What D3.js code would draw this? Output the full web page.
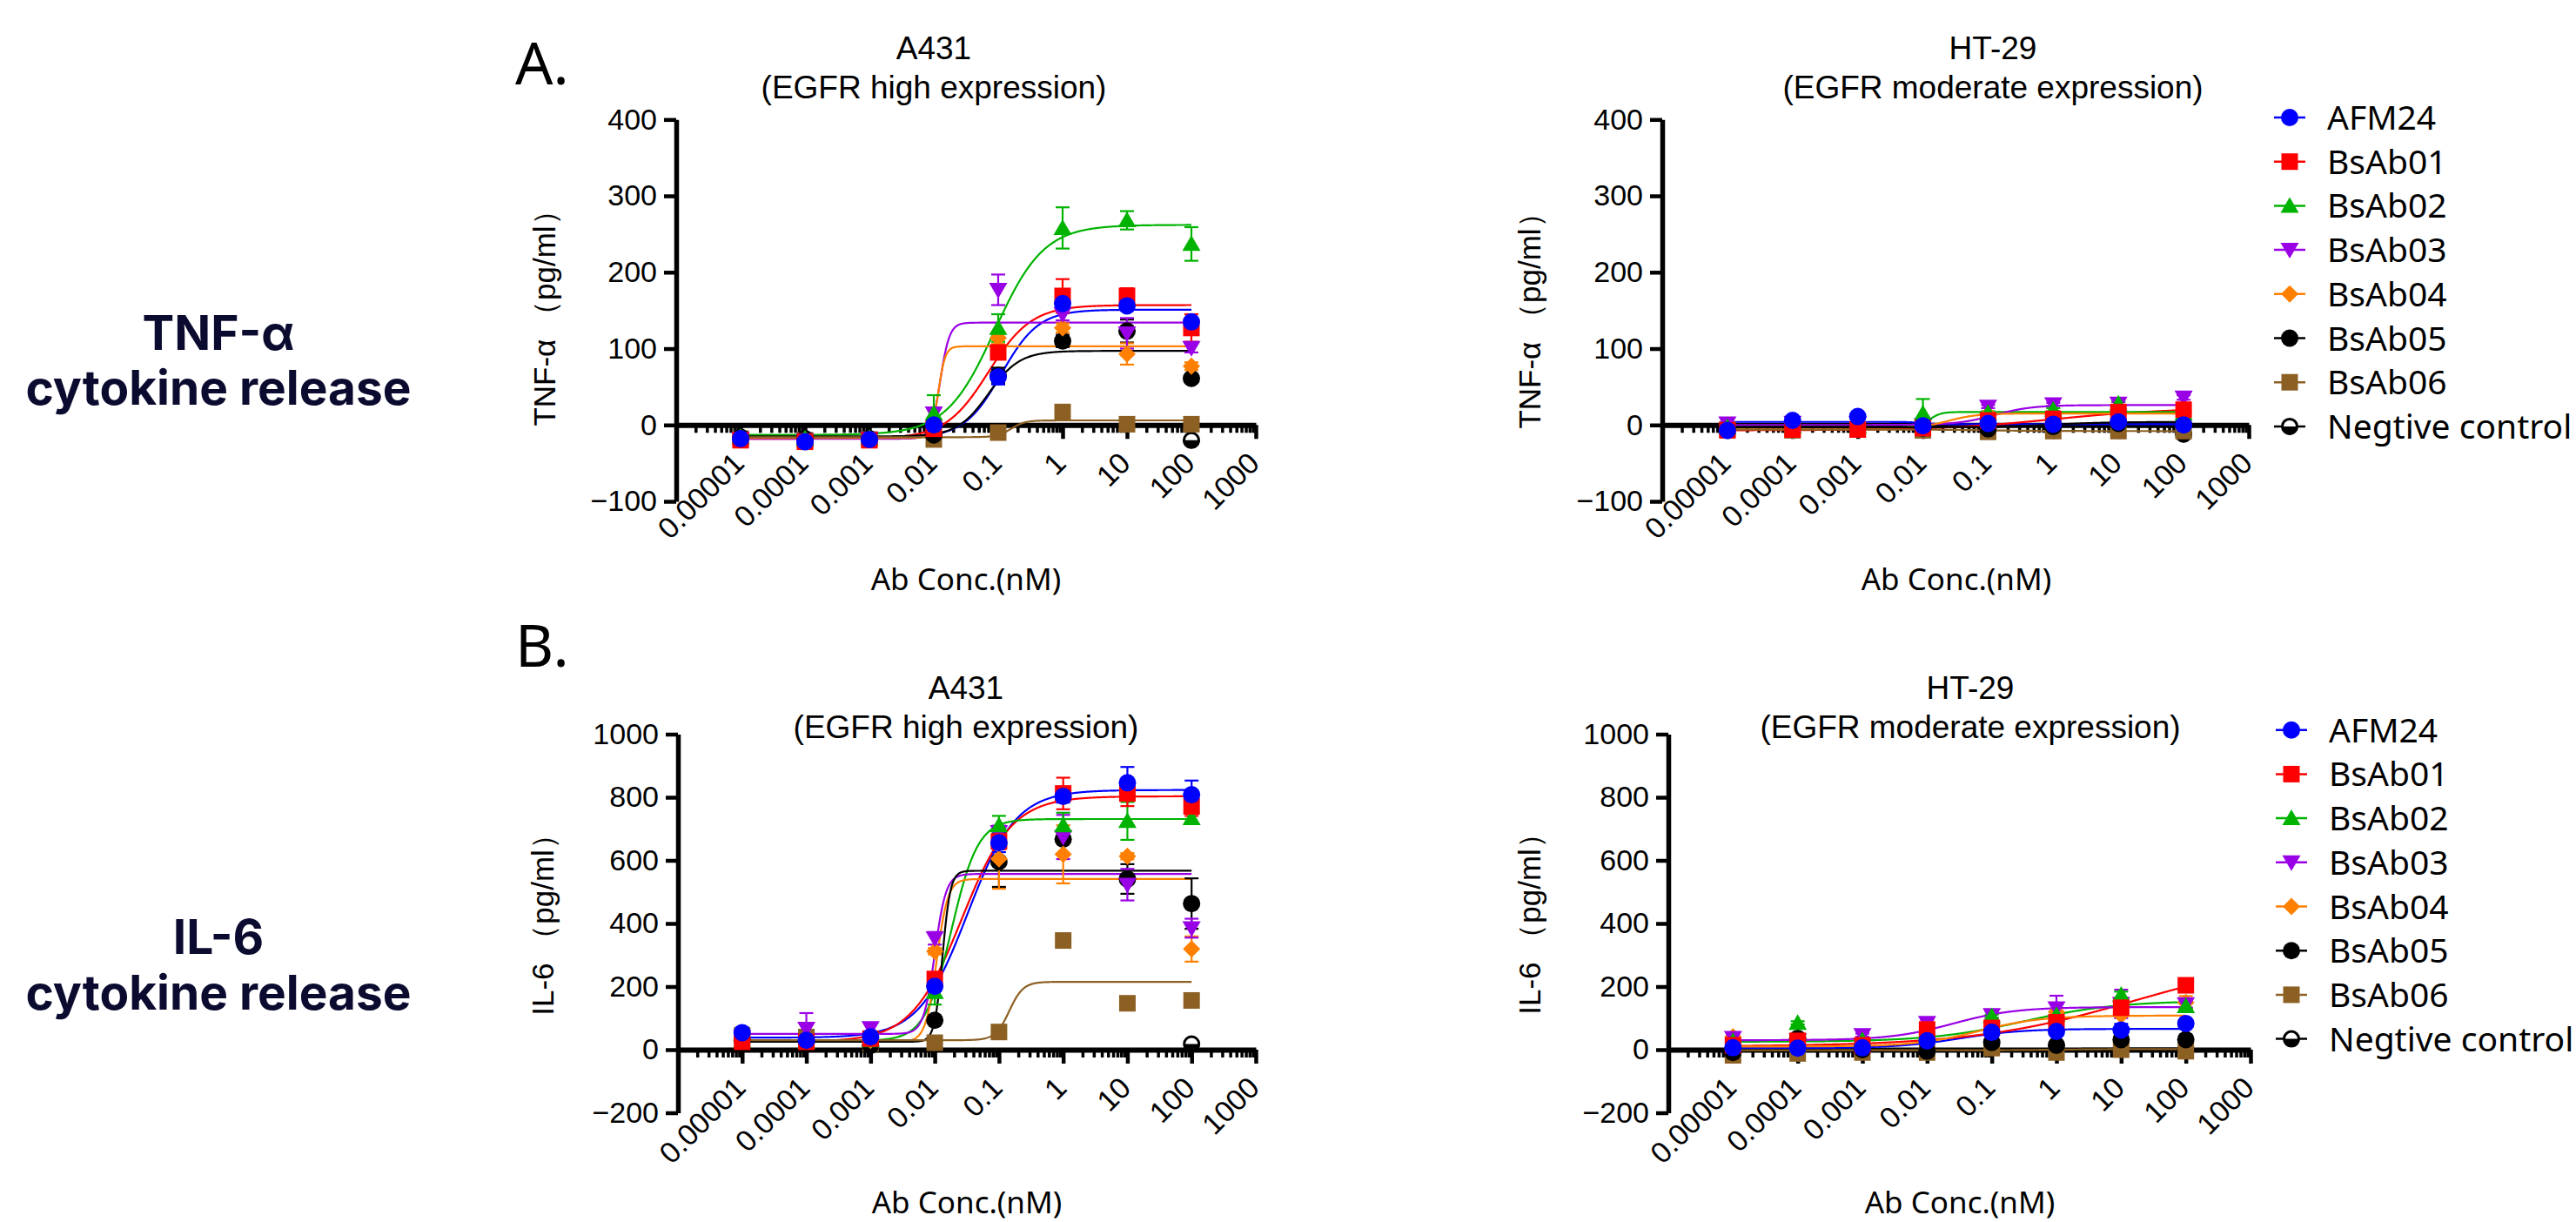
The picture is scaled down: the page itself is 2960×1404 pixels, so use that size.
<!DOCTYPE html>
<html>
<head>
<meta charset="utf-8">
<script src="https://cdn.jsdelivr.net/npm/d3@7"></script>
<style>
  body { margin: 0; background: #fff; }
  svg text { font-family: "Liberation Sans", Arial, sans-serif; fill: #000; }
</style>
</head>
<body>
<div id="chart"></div>
<script>
// Canvas
const width = 2960;
const height = 1404;

// Concentrations (nM) and labels
const conc = [1e-5, 1e-4, 1e-3, 0.01, 0.1, 1, 10, 100];
const seriesNames = ["AFM24", "BsAb01", "BsAb02", "BsAb03", "BsAb04", "BsAb05", "BsAb06", "Negtive control"];
const xTickValues = [1e-5, 1e-4, 1e-3, 0.01, 0.1, 1, 10, 100, 1000];
const xTickLabels = ["0.00001", "0.0001", "0.001", "0.01", "0.1", "1", "10", "100", "1000"];
const yTicksTNF = [-100, 0, 100, 200, 300, 400];
const yTicksIL6 = [-200, 0, 200, 400, 600, 800, 1000];

// TNF-a, A431 (rows follow seriesNames)
const tnfA431Values = [
  [-18, -22, -19, 0, 63, 159, 156, 135],
  [-20, -22, -20, -5, 95, 169, 169, 127],
  [-16, -18, -17, 15, 127, 258, 268, 237],
  [-18, -20, -18, 15, 177, 145, 120, 101],
  [-17, -19, -18, 5, 114, 127, 93, 77],
  [-16, -18, -18, -13, 65, 110, 123, 61],
  [-18, -20, -19, -19, -10, 17, 1, 1],
  [null, null, null, null, null, null, null, -20]
];
const tnfA431Errors = [
  [3, 3, 3, 5, 10, 8, 6, 5],
  [4, 4, 4, 6, 8, 22, 10, 18],
  [3, 3, 3, 24, 18, 27, 12, 22],
  [3, 3, 3, 8, 20, 8, 20, 6],
  [3, 3, 3, 5, 8, 6, 14, 5],
  [3, 3, 3, 5, 10, 8, 15, 5],
  [0, 0, 0, 0, 0, 0, 0, 0],
  [0, 0, 0, 0, 0, 0, 0, 0]
];
// fit: bottom, top, logEC50, hill
const tnfA431Fit = [
  [-17, 151, -0.95, 1.5],
  [-18, 157, -1.15, 1.3],
  [-13, 262, -1.05, 1.15],
  [-18, 134, -1.9, 6],
  [-17, 103, -1.93, 8],
  [-15, 97, -1.15, 1.8],
  [-16, 6, -0.8, 4]
];

// TNF-a, HT-29
const tnfHT29Values = [
  [-7, 6, 11, -1, 2, 1, 4, 0],
  [-7, -6, -6, -4, 6, 8, 17, 20],
  [-3, -2, -2, 15, 16, 20, 28, 15],
  [2, 3, 2, 0, 24, 27, 28, 36],
  [-5, -5, -4, 0, 14, 15, 15, 16],
  [-4, -3, -3, -4, -5, -2, 2, 1],
  [-6, -7, -6, -7, -9, -8, -8, -8],
  [null, null, null, null, null, null, null, -12]
];
const tnfHT29Errors = [
  [2, 2, 2, 2, 2, 2, 2, 2],
  [2, 2, 2, 2, 2, 2, 3, 3],
  [2, 2, 2, 19, 2, 2, 3, 2],
  [2, 2, 2, 2, 2, 2, 2, 3],
  [2, 2, 2, 2, 2, 2, 2, 2],
  [0, 0, 0, 0, 0, 0, 0, 0],
  [0, 0, 0, 0, 0, 0, 0, 0],
  [0, 0, 0, 0, 0, 0, 0, 0]
];
const tnfHT29Fit = [
  [4, 1, -2, 4],
  [-7, 22, 0, 0.5],
  [-3, 17, -1.9, 5],
  [0, 26, -0.9, 1.5],
  [-4, 15, -1.6, 2],
  [-3, 4, 0, 1],
  [-6, -8, -1, 1]
];

// IL-6, A431
const il6A431Values = [
  [54, 30, 41, 201, 656, 803, 846, 808],
  [25, 25, 35, 224, 660, 812, 812, 771],
  [28, 25, 30, 183, 711, 711, 725, 734],
  [40, 66, 68, 353, 690, 674, 523, 385],
  [30, 28, 30, 312, 605, 619, 613, 319],
  [30, 25, 13, 93, 596, 667, 541, 463],
  [45, 40, 20, 22, 56, 346, 147, 156],
  [null, null, null, null, null, null, null, 18]
];
const il6A431Errors = [
  [8, 8, 8, 15, 30, 20, 50, 45],
  [8, 8, 8, 15, 25, 50, 40, 30],
  [5, 5, 5, 40, 30, 40, 60, 15],
  [10, 50, 15, 20, 20, 70, 50, 30],
  [5, 5, 5, 10, 95, 92, 10, 40],
  [5, 5, 5, 10, 80, 10, 47, 80],
  [0, 0, 0, 0, 0, 0, 0, 0],
  [0, 0, 0, 0, 0, 0, 0, 0]
];
const il6A431Fit = [
  [38, 823, -1.49, 1.15],
  [25, 803, -1.58, 1.11],
  [28, 731, -1.74, 2.1],
  [50, 557, -2.0, 5],
  [25, 541, -1.97, 5],
  [25, 567, -1.88, 7],
  [30, 215, -0.84, 4]
];

// IL-6, HT-29
const il6HT29Values = [
  [6, 5, 6, 28, 55, 58, 62, 83],
  [14, 28, 14, 64, 69, 87, 133, 204],
  [27, 85, 30, 50, 106, 110, 174, 138],
  [37, 30, 46, 85, 110, 131, 145, 144],
  [41, 25, 20, 50, 90, 119, 110, 150],
  [-9, 36, 0, -5, 23, 14, 32, 32],
  [-18, -12, -9, -9, 5, -9, 0, -5],
  [null, null, null, null, null, null, null, 0]
];
const il6HT29Errors = [
  [5, 5, 5, 5, 5, 5, 20, 8],
  [5, 5, 5, 5, 5, 5, 10, 20],
  [5, 5, 5, 5, 5, 5, 10, 8],
  [5, 5, 5, 10, 10, 40, 45, 10],
  [5, 5, 5, 5, 5, 5, 5, 20],
  [0, 0, 0, 0, 0, 0, 0, 0],
  [0, 0, 0, 0, 0, 0, 0, 0],
  [0, 0, 0, 0, 0, 0, 0, 0]
];
const il6HT29Fit = [
  [5, 66, -1.5, 0.9],
  [10, 300, 1.2, 0.35],
  [25, 155, -0.5, 0.6],
  [30, 135, -1.6, 0.9],
  [10, 108, -1.2, 0.9],
  [0, 4, 0, 1],
  [-2, 2, 0, 1]
];

// Styles
const colors = ["#0000ff", "#ff0000", "#00b300", "#9900e6", "#ff8000", "#000000", "#8c6023", "#000000"];
const shapes = ["circle", "square", "triUp", "triDown", "diamond", "circle", "square", "half"];

const svg = d3.select("#chart")
  .append("svg")
  .attr("width", width)
  .attr("height", height)
  .attr("viewBox", `0 0 ${width} ${height}`);

function markerPath(shape) {
  if (shape === "circle") return d3.symbol(d3.symbolCircle, Math.PI * 10 * 10)();
  if (shape === "square") return "M-9.5,-9.5H9.5V9.5H-9.5Z";
  if (shape === "triUp") return "M0,-10L10.5,8L-10.5,8Z";
  if (shape === "triDown") return "M0,10L10.5,-8L-10.5,-8Z";
  if (shape === "diamond") return "M0,-10L10,0L0,10L-10,0Z";
  return "";
}

function drawMarker(g, i, cx, cy) {
  const m = g.append("g").attr("transform", `translate(${cx},${cy})`);
  if (shapes[i] === "half") {
    m.append("circle").attr("r", 8.5).attr("fill", "#fff")
      .attr("stroke", "#000").attr("stroke-width", 3);
    m.append("path").attr("d", "M-9.5,0A9.5,9.5 0 0 0 9.5,0Z").attr("fill", "#000");
  } else {
    m.append("path").attr("d", markerPath(shapes[i])).attr("fill", colors[i]);
  }
}

function logistic(p, lx) {
  return p[0] + (p[1] - p[0]) / (1 + Math.pow(10, (p[2] - lx) * p[3]));
}

// Panel layouts
const panels = [
  { x0: 777, x1: 1443, yTop: 137.3, yBot: 576, dom: [-100, 400], ticks: yTicksTNF,
    vals: tnfA431Values, errs: tnfA431Errors, fits: tnfA431Fit,
    title: ["A431", "(EGFR high expression)"], tx: 1073, ty: 68,
    ylab: "TNF-α （pg/ml）", ylx: 626, yly: 357, xlx: 1110, xly: 678, legend: null },
  { x0: 1910, x1: 2584, yTop: 137.3, yBot: 576, dom: [-100, 400], ticks: yTicksTNF,
    vals: tnfHT29Values, errs: tnfHT29Errors, fits: tnfHT29Fit,
    title: ["HT-29", "(EGFR moderate expression)"], tx: 2290, ty: 68,
    ylab: "TNF-α （pg/ml）", ylx: 1758, yly: 360, xlx: 2248, xly: 678,
    legend: { mx: 2631, y0: 135 } },
  { x0: 779, x1: 1443, yTop: 843.5, yBot: 1278.5, dom: [-200, 1000], ticks: yTicksIL6,
    vals: il6A431Values, errs: il6A431Errors, fits: il6A431Fit,
    title: ["A431", "(EGFR high expression)"], tx: 1110, ty: 803,
    ylab: "IL-6 （pg/ml）", ylx: 624, yly: 1054, xlx: 1111, xly: 1394, legend: null },
  { x0: 1917, x1: 2586, yTop: 843.5, yBot: 1278.5, dom: [-200, 1000], ticks: yTicksIL6,
    vals: il6HT29Values, errs: il6HT29Errors, fits: il6HT29Fit,
    title: ["HT-29", "(EGFR moderate expression)"], tx: 2264, ty: 803,
    ylab: "IL-6 （pg/ml）", ylx: 1758, yly: 1053, xlx: 2252, xly: 1394,
    legend: { mx: 2633, y0: 838.7 } }
];

// minor log ticks
const minorTicks = [];
for (let d = -6; d <= 2; d++) {
  for (let k = 2; k <= 9; k++) minorTicks.push(k * Math.pow(10, d));
}

function drawPanel(p) {
  const x = d3.scaleLog().domain([1e-6, 1000]).range([p.x0, p.x1]);
  const y = d3.scaleLinear().domain(p.dom).range([p.yBot, p.yTop]);
  const g = svg.append("g");
  const y0 = y(0);

  // titles
  p.title.forEach((t, k) => {
    g.append("text").attr("x", p.tx).attr("y", p.ty + k * 45)
      .attr("text-anchor", "middle")
      .style("font-size", "37px").text(t);
  });

  // y axis
  const ya = g.append("g").attr("transform", `translate(${p.x0},0)`)
    .call(d3.axisLeft(y).tickValues(p.ticks).tickFormat(d3.format("d"))
      .tickSize(14).tickPadding(8).tickSizeOuter(0));
  ya.select(".domain").attr("stroke-width", 5.5);
  ya.selectAll(".tick line").attr("stroke-width", 4.5);
  ya.selectAll(".tick text").style("font-size", "34px")
    .style("font-family", "'Liberation Sans', Arial, sans-serif");

  // x axis (at y = 0)
  const xaMinor = g.append("g").attr("transform", `translate(0,${y0})`)
    .call(d3.axisBottom(x).tickValues(minorTicks).tickSize(9).tickFormat("").tickSizeOuter(0));
  xaMinor.select(".domain").remove();
  xaMinor.selectAll(".tick line").attr("stroke-width", 3.5);
  const xa = g.append("g").attr("transform", `translate(0,${y0})`)
    .call(d3.axisBottom(x).tickValues(xTickValues).tickSize(16).tickFormat("").tickSizeOuter(0));
  xa.select(".domain").attr("stroke-width", 6);
  xa.selectAll(".tick line").attr("stroke-width", 4.5);

  xTickValues.forEach((v, k) => {
    g.append("text")
      .attr("transform", `translate(${x(v) + 6},${y0 + 46}) rotate(-45)`)
      .attr("text-anchor", "end")
      .style("font-size", "34px")
      .text(xTickLabels[k]);
  });

  // axis titles
  g.append("text")
    .attr("transform", `translate(${p.ylx},${p.yly}) rotate(-90)`)
    .attr("text-anchor", "middle").attr("dy", "0.35em")
    .style("font-size", "35px").text(p.ylab);
  g.append("text").attr("x", p.xlx).attr("y", p.xly)
    .attr("text-anchor", "middle")
    .style("font-family", "'Noto Sans', sans-serif")
    .style("font-size", "35px").text("Ab Conc.(nM)");

  // fit curves
  const lxs = d3.range(-5, 2.0001, 0.01);
  const line = d3.line().x(d => x(Math.pow(10, d[0]))).y(d => y(d[1]));
  p.fits.forEach((f, i) => {
    g.append("path").datum(lxs.map(l => [l, logistic(f, l)]))
      .attr("d", line).attr("fill", "none")
      .attr("stroke", colors[i]).attr("stroke-width", 2.2);
  });

  // error bars and points, last series drawn first
  for (let i = seriesNames.length - 1; i >= 0; i--) {
    p.vals[i].forEach((v, j) => {
      if (v === null) return;
      const e = p.errs[i][j];
      const cx = x(conc[j]);
      if (e > 0) {
        const eb = g.append("g").attr("stroke", colors[i]).attr("stroke-width", 2.2);
        eb.append("line").attr("x1", cx).attr("x2", cx).attr("y1", y(v - e)).attr("y2", y(v + e));
        eb.append("line").attr("x1", cx - 8).attr("x2", cx + 8).attr("y1", y(v + e)).attr("y2", y(v + e));
        eb.append("line").attr("x1", cx - 8).attr("x2", cx + 8).attr("y1", y(v - e)).attr("y2", y(v - e));
      }
    });
  }
  for (let i = seriesNames.length - 1; i >= 0; i--) {
    p.vals[i].forEach((v, j) => {
      if (v === null) return;
      drawMarker(g, i, x(conc[j]), y(v));
    });
  }

  // legend
  if (p.legend) {
    seriesNames.forEach((name, i) => {
      const ly = p.legend.y0 + i * 50.7;
      g.append("line").attr("x1", p.legend.mx - 18).attr("x2", p.legend.mx + 18)
        .attr("y1", ly).attr("y2", ly)
        .attr("stroke", colors[i]).attr("stroke-width", 2.5);
      drawMarker(g, i, p.legend.mx, ly);
      g.append("text").attr("x", p.legend.mx + 43).attr("y", ly).attr("dy", "0.36em")
        .style("font-family", "'Noto Sans', sans-serif")
        .style("font-size", "39px").text(name);
    });
  }
}

panels.forEach(drawPanel);

// panel letters
svg.append("text").attr("x", 592).attr("y", 97)
  .style("font-family", "'Noto Sans', sans-serif").style("font-size", "68px").text("A.");
svg.append("text").attr("x", 592).attr("y", 766)
  .style("font-family", "'Noto Sans', sans-serif").style("font-size", "68px").text("B.");

// row labels
const rowLabels = [
  { lines: ["TNF-α", "cytokine release"], y: 401.7 },
  { lines: ["IL-6", "cytokine release"], y: 1096 }
];
rowLabels.forEach(r => {
  r.lines.forEach((t, k) => {
    svg.append("text").attr("x", 251).attr("y", r.y + k * 63.5)
      .attr("text-anchor", "middle")
      .style("font-family", "Inter, sans-serif").style("font-weight", "700")
      .style("font-size", "55px").style("fill", "#0b0b30")
      .text(t);
  });
});
</script>
</body>
</html>
